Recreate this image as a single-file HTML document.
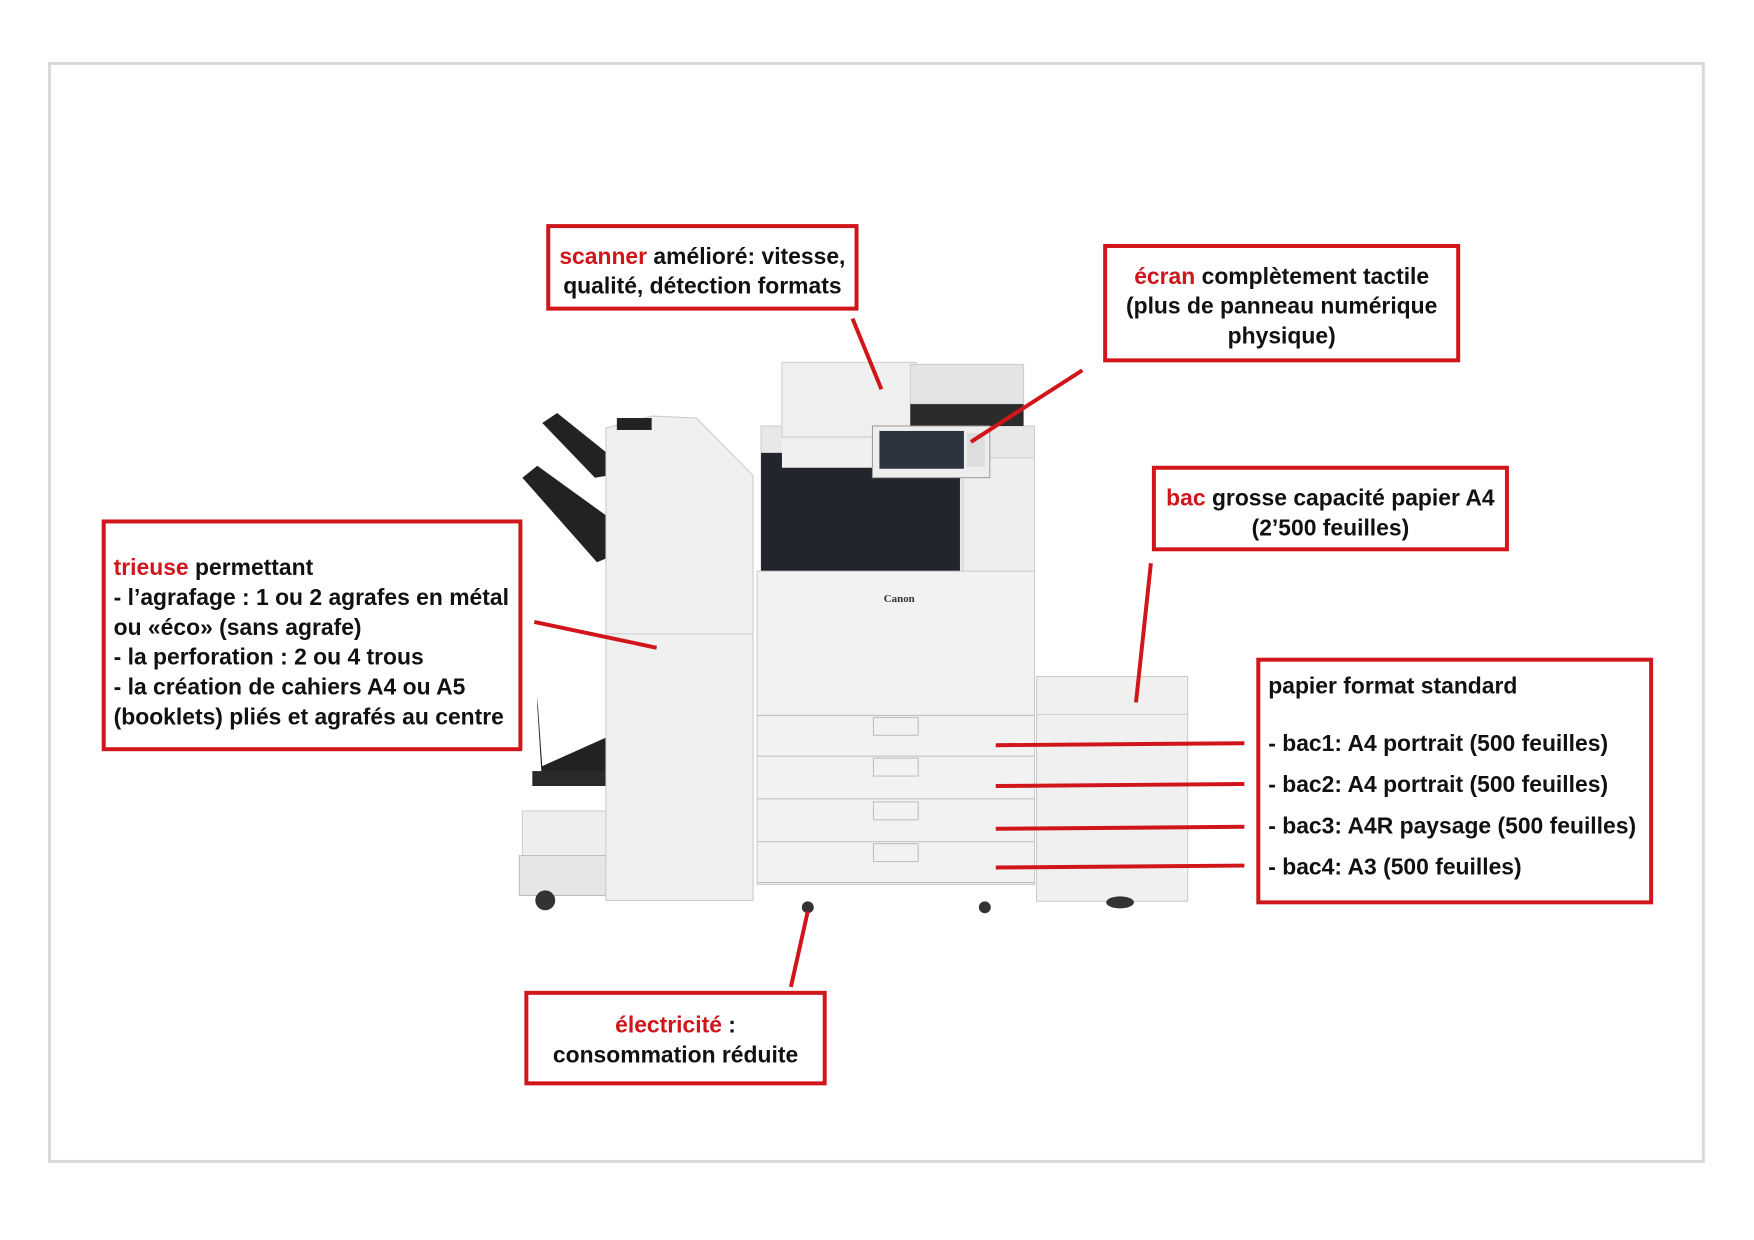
<!DOCTYPE html>
<html><head><meta charset="utf-8"><style>
body{margin:0;width:1754px;height:1240px;background:#fff;position:relative;overflow:hidden;font-family:"Liberation Sans",sans-serif}
#w{position:absolute;left:0;top:0;width:1754px;height:1240px;transform-origin:48px 62px;transform:scale(0.9945)}
.frame{position:absolute;left:48px;top:62px;width:1660px;height:1101px;border:3px solid #d9d9d9}
.box{position:absolute;border:4px solid #d0161b;box-sizing:border-box;font-weight:bold;font-size:23px;line-height:30px;color:#111;letter-spacing:0;white-space:nowrap}
.r{color:#d0161b}
.c{text-align:center}
svg{position:absolute;left:0;top:0}
</style></head><body><div id="w">
<div class="frame"></div>
<svg width="1754" height="1240">
<polygon points="545,425 560,415 610,455 610,478 598,480" fill="#222"/>
<polygon points="525,480 540,468 612,520 612,560 600,565" fill="#222"/>
<line x1="612" y1="515" x2="680" y2="560" stroke="#222" stroke-width="5"/>
<polygon points="540,700 545,770 612,740 612,780 545,790 540,710" fill="#222"/>
<rect x="535" y="775" width="77" height="15" fill="#2a2a2a"/>
<rect x="525" y="815" width="85" height="85" fill="#eee" stroke="#ccc"/>
<rect x="522" y="860" width="88" height="40" fill="#e6e6e6" stroke="#bbb"/>
<circle cx="548" cy="905" r="10" fill="#333"/>
<polygon points="609,430 655,418 700,420 757,478 757,905 609,905" fill="#f0f0f0" stroke="#c8c8c8"/>
<line x1="609" y1="637" x2="757" y2="637" stroke="#ccc"/>
<rect x="620" y="420" width="35" height="12" fill="#222"/>
<rect x="765" y="428" width="275" height="150" fill="#e8e8e8" stroke="#ccc"/>
<rect x="765" y="455" width="200" height="120" fill="#22262c"/>
<rect x="968" y="460" width="72" height="115" fill="#eeeeee" stroke="#ccc"/>
<rect x="786" y="440" width="100" height="30" fill="#f0f0f0"/>
<rect x="786" y="364" width="135" height="75" fill="#efefef" stroke="#ccc"/>
<rect x="915" y="366" width="114" height="40" fill="#e4e4e4" stroke="#ccc"/>
<rect x="915" y="406" width="114" height="22" fill="#2b2b2b"/>
<rect x="877" y="428" width="118" height="52" fill="#eee" stroke="#999"/>
<rect x="884" y="433" width="85" height="38" fill="#2c3440"/>
<rect x="972" y="435" width="18" height="34" fill="#ddd"/>
<rect x="761" y="574" width="279" height="315" fill="#f2f2f2" stroke="#c8c8c8"/>
<text x="904" y="605" font-family="Liberation Serif" font-size="11" font-weight="bold" fill="#333" text-anchor="middle">Canon</text>
<g stroke="#bbb" fill="none">
<line x1="761" y1="719" x2="1040" y2="719"/><line x1="761" y1="760" x2="1040" y2="760"/>
<line x1="761" y1="803" x2="1040" y2="803"/><line x1="761" y1="846" x2="1040" y2="846"/>
<line x1="761" y1="887" x2="1040" y2="887"/>
<rect x="878" y="721" width="45" height="18"/><rect x="878" y="762" width="45" height="18"/>
<rect x="878" y="806" width="45" height="18"/><rect x="878" y="848" width="45" height="18"/>
</g>
<circle cx="812" cy="912" r="6" fill="#333"/><circle cx="990" cy="912" r="6" fill="#333"/>
<rect x="1042" y="680" width="152" height="226" fill="#f0f0f0" stroke="#c8c8c8"/>
<line x1="1042" y1="718" x2="1194" y2="718" stroke="#ccc"/>
<ellipse cx="1126" cy="907" rx="14" ry="6" fill="#333"/>
<g stroke="#d0161b" stroke-width="4">
<line x1="857" y1="320" x2="886" y2="391"/>
<line x1="1088" y1="372" x2="976" y2="444"/>
<line x1="1157" y1="566" x2="1142" y2="706"/>
<line x1="537" y1="625" x2="660" y2="651"/>
<line x1="1001" y1="749" x2="1251" y2="747"/>
<line x1="1001" y1="790" x2="1251" y2="788"/>
<line x1="1001" y1="833" x2="1251" y2="831"/>
<line x1="1001" y1="872" x2="1251" y2="870"/>
<line x1="812" y1="916" x2="795" y2="992"/>
</g>
</svg>
<div class="box c" style="left:549px;top:225px;width:314px;height:87px;padding-top:13px"><span class="r">scanner</span> amélioré: vitesse,<br>qualité, détection formats</div>
<div class="box c" style="left:1109px;top:245px;width:359px;height:119px;padding-top:13px"><span class="r">écran</span> complètement tactile<br>(plus de panneau numérique<br>physique)</div>
<div class="box c" style="left:1158px;top:468px;width:359px;height:86px;padding-top:13px"><span class="r">bac</span> grosse capacité papier A4<br>(2’500 feuilles)</div>
<div class="box" style="left:102px;top:522px;width:423px;height:233px;padding:29px 0 0 8px"><span class="r">trieuse</span> permettant<br>- l’agrafage : 1 ou 2 agrafes en métal<br>ou «éco» (sans agrafe)<br>- la perforation : 2 ou 4 trous<br>- la création de cahiers A4 ou A5<br>(booklets) pliés et agrafés au centre</div>
<div class="box" style="left:1263px;top:661px;width:399px;height:248px;padding:4px 0 0 8px;line-height:41.5px"><div>papier format standard</div><div style="margin-top:16px">- bac1: A4 portrait (500 feuilles)</div><div>- bac2: A4 portrait (500 feuilles)</div><div>- bac3: A4R paysage (500 feuilles)</div><div>- bac4: A3 (500 feuilles)</div></div>
<div class="box c" style="left:527px;top:996px;width:304px;height:95px;padding-top:15px"><span class="r">électricité</span> :<br>consommation réduite</div>
</div></body></html>
